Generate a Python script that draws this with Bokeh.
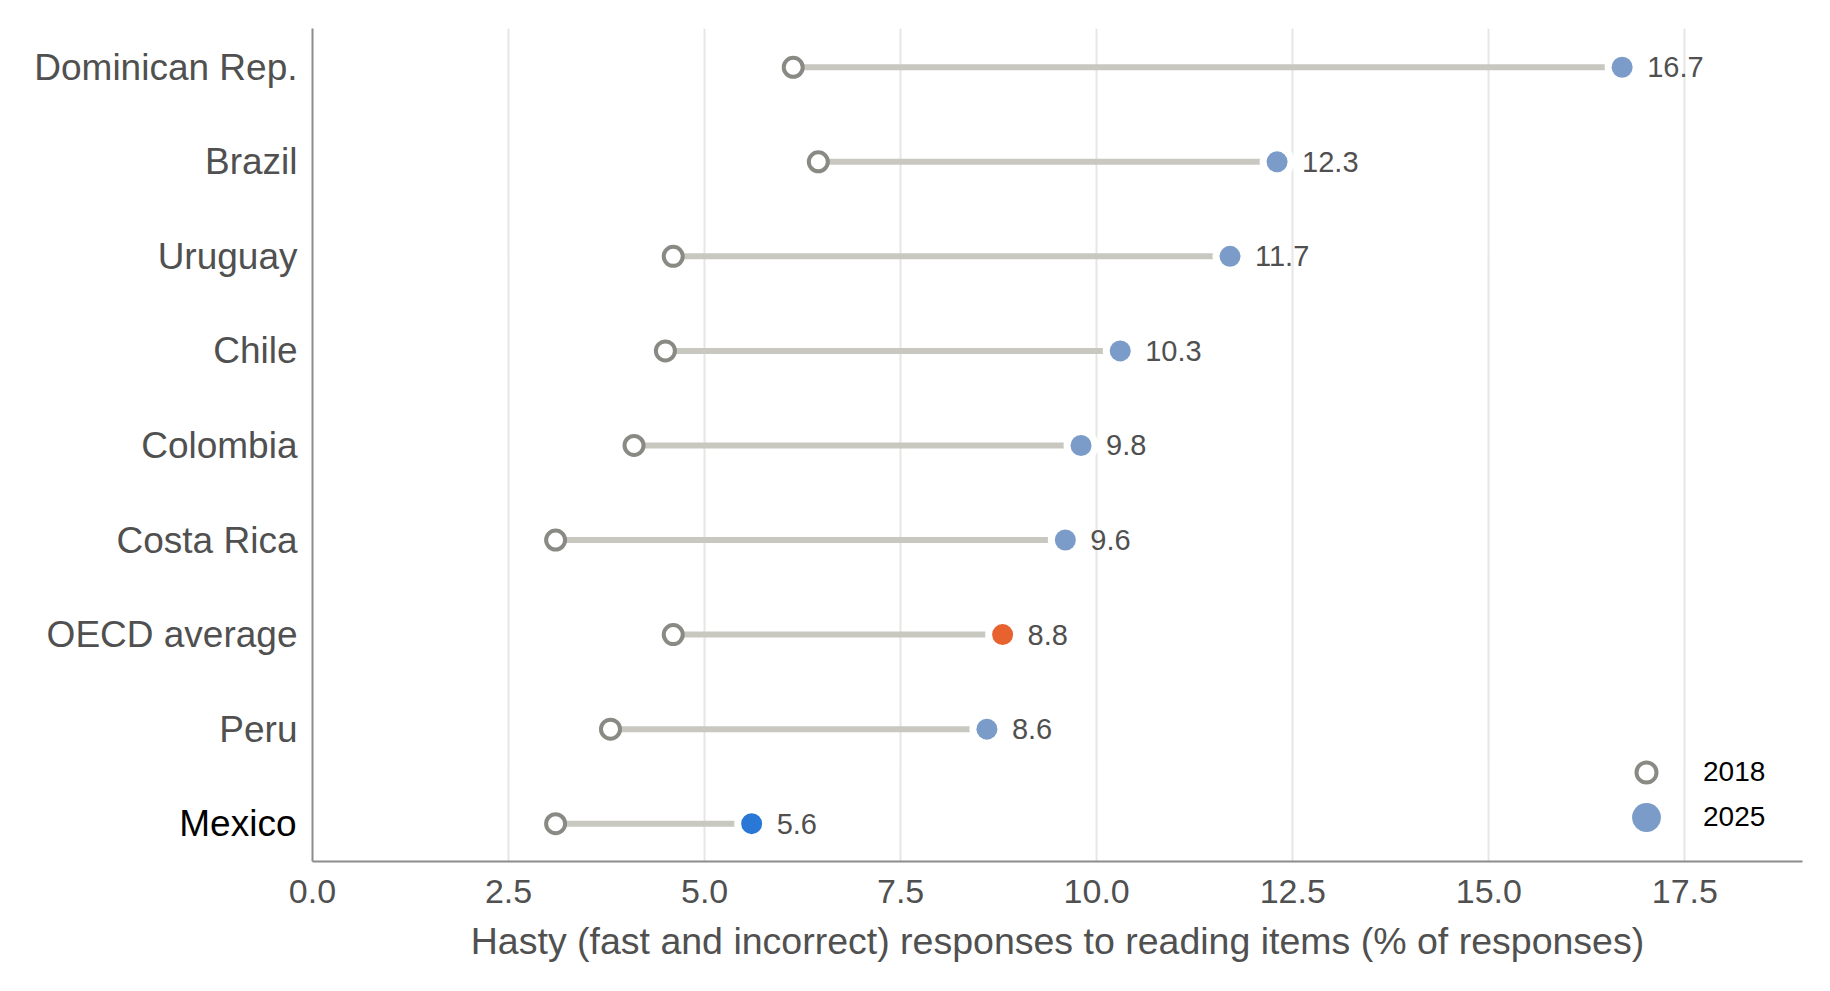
from bokeh.plotting import figure
from bokeh.models import (ColumnDataSource, FixedTicker, PrintfTickFormatter,
                          Legend, LegendItem, LabelSet, LinearAxis)
from bokeh.core.properties import value
from bokeh.embed import file_html
from bokeh.resources import INLINE

# de abajo hacia arriba
paises = ["Mexico", "Peru", "OECD average", "Costa Rica", "Colombia",
          "Chile", "Uruguay", "Brazil", "Dominican Rep."]
v2018 = [3.1, 3.8, 4.6, 3.1, 4.1, 4.5, 4.6, 6.45, 6.13]
v2025 = [5.6, 8.6, 8.8, 9.6, 9.8, 10.3, 11.7, 12.3, 16.7]
colores = ["#2a78d6", "#7b9cc8", "#e8622f", "#7b9cc8", "#7b9cc8",
           "#7b9cc8", "#7b9cc8", "#7b9cc8", "#7b9cc8"]
xticks = [0, 2.5, 5, 7.5, 10, 12.5, 15, 17.5]
destacado = "Mexico"

FUENTE = "Liberation Sans"
GRIS = "#505050"

src = ColumnDataSource(dict(
    y=list(range(len(paises))), a=v2018, b=v2025, c=colores,
    t=["%.1f" % v for v in v2025],
))

p = figure(width=1814, height=982, x_range=(0, 19), y_range=(-0.4, 8.41),
           output_backend="svg", toolbar_location=None,
           min_border_left=312, min_border_top=28, min_border_right=12,
           min_border_bottom=121)
p.outline_line_color = None

p.segment(x0="a", y0="y", x1="b", y1="y", source=src,
          line_color="#c8c8c0", line_width=6)
# halo blanco para separar la linea del punto 2025
p.scatter(x="b", y="y", source=src, size=35, fill_color="white",
          line_color=None)
r25 = p.scatter(x="b", y="y", source=src, size=21, fill_color="c",
                line_color=None)
r18 = p.scatter(x="a", y="y", source=src, size=19, fill_color="white",
                line_color="#8a8a84", line_width=4)

etiquetas = LabelSet(x="b", y="y", text="t", source=src, x_offset=25,
                     text_baseline="middle", text_font=value(FUENTE),
                     text_font_size="29px", text_color=GRIS)
p.add_layout(etiquetas)

# eje x
p.xaxis.ticker = FixedTicker(ticks=xticks)
p.xaxis.formatter = PrintfTickFormatter(format="%.1f")
p.xaxis.axis_label = "Hasty (fast and incorrect) responses to reading items (% of responses)"
p.xaxis.axis_label_text_font = FUENTE
p.xaxis.axis_label_text_font_size = "37.5px"
p.xaxis.axis_label_text_font_style = "normal"
p.xaxis.axis_label_text_color = GRIS
p.xaxis.axis_label_standoff = 14
p.xaxis.major_label_text_font = FUENTE
p.xaxis.major_label_text_font_size = "34px"
p.xaxis.major_label_text_color = GRIS
p.xaxis.major_label_standoff = 18

# eje y: el interior solo lleva Mexico (en negro), el exterior el resto
i_mx = paises.index(destacado)
ejey = p.left[0]
ejey.ticker = FixedTicker(ticks=[i_mx])
ejey.major_label_overrides = {i_mx: destacado}
ejey.major_label_text_color = "black"
ejey.major_label_standoff = 16

otros = [i for i in range(len(paises)) if i != i_mx]
ejey2 = LinearAxis(ticker=FixedTicker(ticks=otros),
                   major_label_overrides={i: paises[i] for i in otros},
                   major_label_text_color=GRIS, major_label_standoff=-121,
                   axis_line_color=None)
p.add_layout(ejey2, "left")

for ax in (p.xaxis[0], ejey, ejey2):
    ax.major_tick_line_color = None
    ax.minor_tick_line_color = None
    ax.major_tick_out = 0
    ax.major_tick_in = 0
    ax.minor_tick_out = 0
for ax in (ejey, ejey2):
    ax.major_label_text_font = FUENTE
    ax.major_label_text_font_size = "37px"
for ax in (p.xaxis[0], ejey):
    ax.axis_line_color = "#8c8c8c"
    ax.axis_line_width = 2

p.xgrid.grid_line_color = "#e6e6e2"
p.xgrid.grid_line_width = 2
p.ygrid.grid_line_color = None

# leyendas separadas para dar distinto tamano a cada marcador
comun = dict(border_line_color=None, background_fill_alpha=0, padding=0,
             margin=0, label_text_font=FUENTE, label_text_font_size="28px",
             label_text_color="black")
ley18 = Legend(items=[LegendItem(label="2018", renderers=[r18], index=8)],
               location=(1309, 64), glyph_width=50, glyph_height=50,
               label_standoff=32, **comun)
ley25 = Legend(items=[LegendItem(label="2025", renderers=[r25], index=8)],
               location=(1298, 8), glyph_width=72, glyph_height=72,
               label_standoff=21, **comun)
p.add_layout(ley18)
p.add_layout(ley25)

open("out.html", "w").write(file_html(p, INLINE))
